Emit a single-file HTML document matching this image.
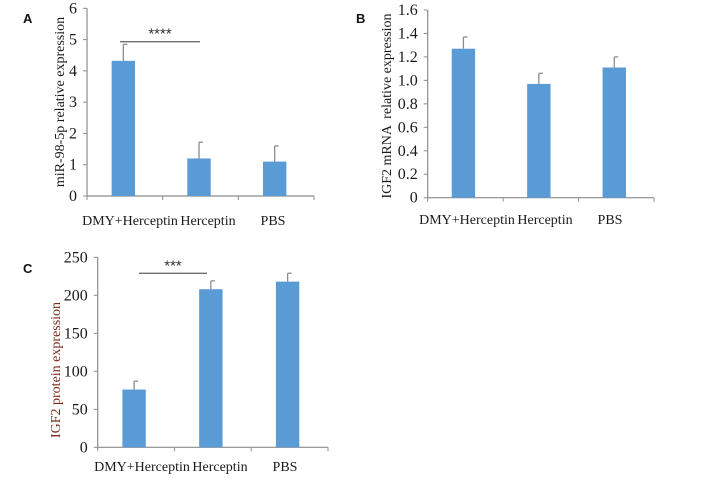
<!DOCTYPE html>
<html><head><meta charset="utf-8"><style>
html,body{margin:0;padding:0;background:#fff;}
svg{display:block;}
.tk{font-family:"Liberation Serif",serif;font-size:16px;fill:#1a1a1a;}
.cat{font-family:"Liberation Serif",serif;font-size:14px;fill:#1a1a1a;}
.ttl{font-family:"Liberation Serif",serif;font-size:14px;white-space:pre;}
.pl{font-family:"Liberation Sans",sans-serif;font-size:13px;font-weight:bold;fill:#111;}
</style></head><body>
<svg id="fig" width="714" height="488" viewBox="0 0 714 488"></svg>
<script>
const categories = ["DMY+Herceptin","Herceptin","PBS"];
const valuesA = [4.32, 1.2, 1.1];
const errTopA = [4.85, 1.72, 1.6];
const ticksA = ["0","1","2","3","4","5","6"];
const valuesB = [1.27, 0.97, 1.11];
const errTopB = [1.37, 1.06, 1.2];
const ticksB = ["0","0.2","0.4","0.6","0.8","1.0","1.2","1.4","1.6"];
const valuesC = [76, 208, 218];
const errTopC = [87, 219, 229];
const ticksC = ["0","50","100","150","200","250"];

const NS="http://www.w3.org/2000/svg";
const svg=document.getElementById('fig');
function mk(tag,attrs,parent,text){const e=document.createElementNS(NS,tag);for(const k in attrs)e.setAttribute(k,attrs[k]);if(text!==undefined)e.textContent=text;(parent||svg).appendChild(e);return e;}

function panel(cfg){
  const g=mk('g',{});
  
  
  const max=parseFloat(cfg.ticks[cfg.ticks.length-1]);
  const y=v=>cfg.y0-(v/max)*(cfg.y0-cfg.yTop);
  const bw=(cfg.xEnd-cfg.x0)/categories.length;
  const cx=i=>cfg.x0+bw*(i+0.5)+cfg.shift;
  const ya=mk('line',{x1:cfg.x0,y1:cfg.yTop,x2:cfg.x0,y2:cfg.y0,stroke:'#8c8c8c','stroke-width':1.2},g);
  
  const xa=mk('line',{x1:cfg.x0,y1:cfg.y0,x2:cfg.xEnd,y2:cfg.y0,stroke:'#8c8c8c','stroke-width':1.2},g);
  
  cfg.ticks.forEach(t=>{
    const v=parseFloat(t),yy=y(v);
    mk('line',{x1:cfg.x0-4,y1:yy,x2:cfg.x0,y2:yy,stroke:'#8c8c8c'},g);
    const tl=mk('text',{x:cfg.x0-10,y:yy+5,'text-anchor':'end',class:'tk'},g,t);
    
  });
  for(let i=0;i<=categories.length;i++){const xx=cfg.x0+bw*i;mk('line',{x1:xx,y1:cfg.y0,x2:xx,y2:cfg.y0+4,stroke:'#8c8c8c'},g);}
  categories.forEach((c,i)=>{
    const v=cfg.values[i],e=cfg.err[i],x=cx(i);
    const el=mk('line',{x1:x,y1:y(e),x2:x,y2:y(v),stroke:'#8c8c8c','stroke-width':1.3},g);
    
    mk('line',{x1:x,y1:y(e),x2:x+4,y2:y(e),stroke:'#8c8c8c','stroke-width':1.3},g);
    const r=mk('rect',{x:x-11.7,y:y(v),width:23.4,height:cfg.y0-y(v),fill:'#5b9bd5'},g);
    
    const cl=mk('text',{x:cfg.catX[i],y:cfg.catY,'text-anchor':'middle',class:'cat'},g,c);
    
  });
  const tt=mk('text',{x:0,y:0,'text-anchor':'middle',class:'ttl',fill:cfg.titleColor,transform:`translate(${cfg.titleX},${cfg.titleY}) rotate(-90)`},g,cfg.title);
  
  const pl=mk('text',{x:cfg.lx,y:cfg.ly,class:'pl'},g,cfg.letter);
  
  if(cfg.sig){
    const sl=mk('line',{x1:cfg.sig.x1,y1:cfg.sig.y,x2:cfg.sig.x2,y2:cfg.sig.y,stroke:'#6e6e6e','stroke-width':1.3},g);
    
    const st=mk('text',{x:(cfg.sig.x1+cfg.sig.x2)/2,y:cfg.sig.y-3,'text-anchor':'middle',style:'font-family:"Liberation Sans",sans-serif;font-size:15px;fill:#333;'},g,cfg.sig.txt);
    
  }
}
panel({name:'panel-a',letter:'A',lx:23,ly:23,x0:87,xEnd:314,y0:196,yTop:8.3,shift:-1.5,values:valuesA,err:errTopA,ticks:ticksA,
  catX:[130,208,273],catY:225,title:'miR-98-5p relative expression',titleX:64,titleY:102,titleColor:'#1a1a1a',
  sig:{x1:120,x2:200,y:41.7,txt:'****'}});
panel({name:'panel-b',letter:'B',lx:356,ly:23,x0:427.7,xEnd:654,y0:197.7,yTop:10,shift:-2,values:valuesB,err:errTopB,ticks:ticksB,
  catX:[467,545,610],catY:224,title:'IGF2 mRNA  relative expression',titleX:391,titleY:106,titleColor:'#1a1a1a'});
panel({name:'panel-c',letter:'C',lx:23,ly:273,x0:97.7,xEnd:328,y0:447.3,yTop:257.3,shift:-2,values:valuesC,err:errTopC,ticks:ticksC,
  catX:[142,220,285],catY:471,title:'IGF2 protein expression',titleX:60,titleY:370,titleColor:'#7a2a1a',
  sig:{x1:139,x2:207,y:273.3,txt:'***'}});
</script>
</body></html>
